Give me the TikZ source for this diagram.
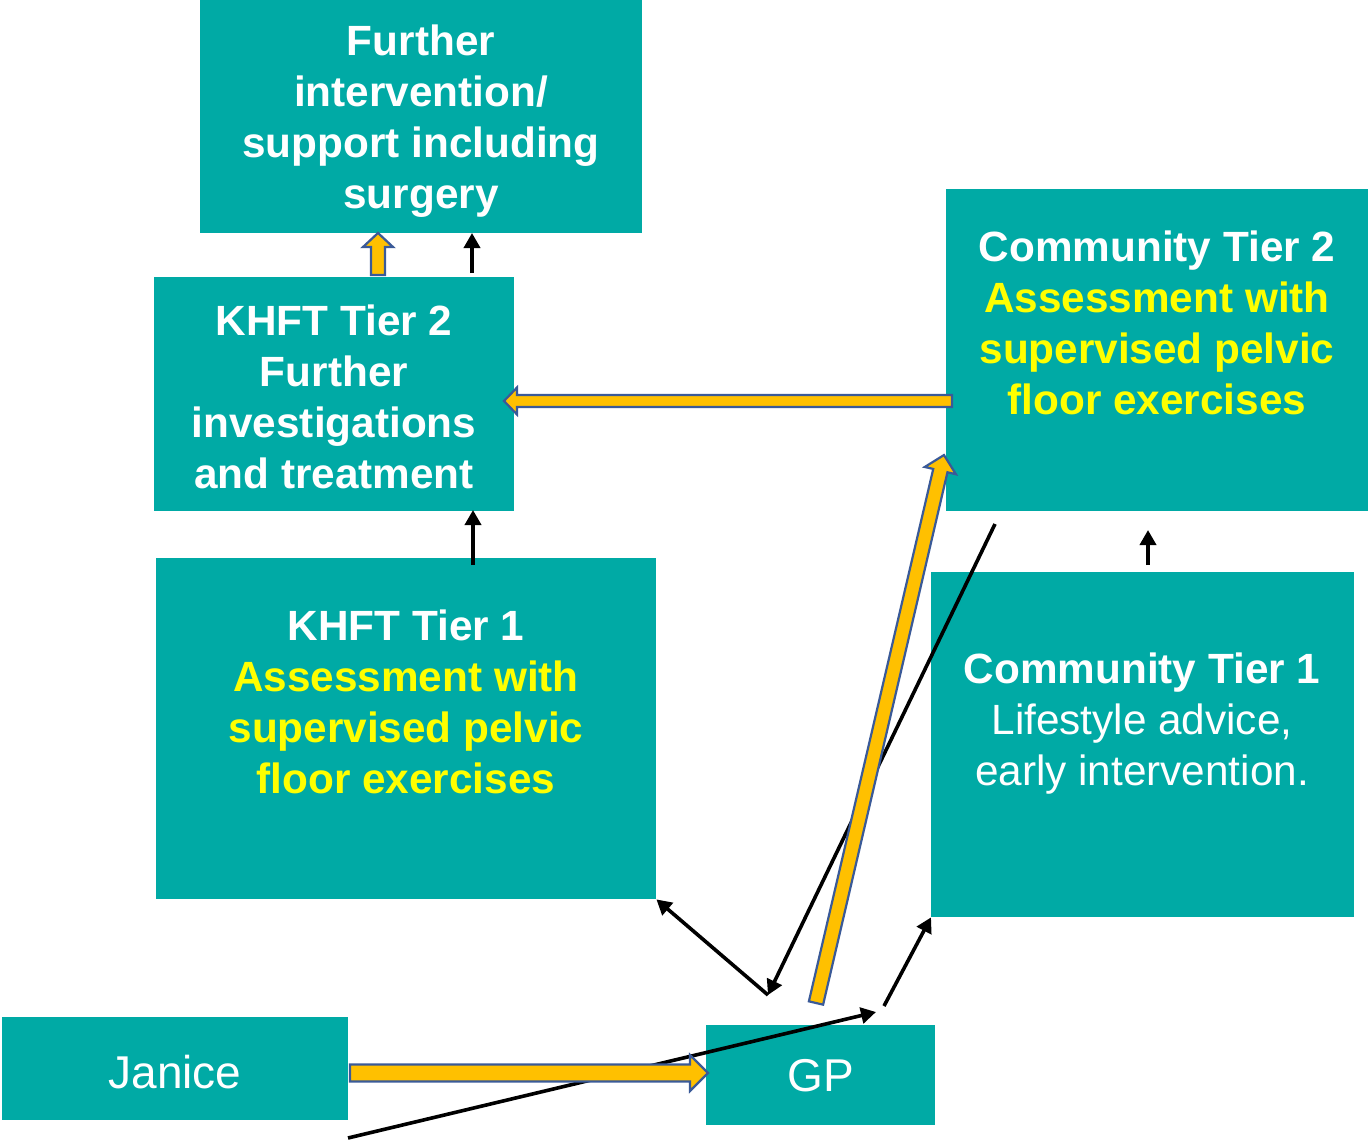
\documentclass[tikz,border=0pt]{standalone}
\usepackage{fontspec}
\setmainfont{Liberation Sans}
\usetikzlibrary{arrows.meta,calc}

\definecolor{boxteal}{HTML}{00AAA5}
\definecolor{arrowfill}{HTML}{FFC000}
\definecolor{arrowedge}{HTML}{3A5A98}
\definecolor{hilite}{HTML}{FFFF00}

\tikzset{
  box/.style={fill=boxteal, inner sep=0pt, anchor=north west},
  boxtext/.style={text=white, font=\fontsize{42.3}{51}\selectfont\bfseries,
    align=center, inner sep=0pt, anchor=north},
  plaintext/.style={text=white, font=\fontsize{46}{55}\selectfont, inner sep=0pt},
  conn/.style={line width=3.6pt, -{Triangle[length=15pt,width=16pt]}},
  barrow/.style={fill=arrowfill, draw=arrowedge, line width=2.2pt, line join=miter},
}

% Outlined block arrow: start, end, shaft half-width, head half-width, head length
\newcommand\blockarrow[5]{%
  \path let \p1=#1, \p2=#2 in \pgfextra{%
    \pgfmathsetmacro\baang{atan2(\y2-\y1,\x2-\x1)}%
    \pgfmathsetmacro\balen{veclen(\x2-\x1,\y2-\y1)}%
    \global\let\baangle\baang
    \global\let\balength\balen};
  \begin{scope}[shift={#1}, rotate=\baangle, x=1pt, y=1pt]
    \draw[barrow] (0,-#3) -- (\balength-#5,-#3) -- (\balength-#5,-#4)
      -- (\balength,0) -- (\balength-#5,#4) -- (\balength-#5,#3)
      -- (0,#3) -- cycle;
  \end{scope}}

\begin{document}
\begin{tikzpicture}[x=1pt, y=-1pt]
  \useasboundingbox (0,0) rectangle (1368,1142);

  % boxes
  \node[box, minimum width=442pt, minimum height=233pt] (further) at (200,0) {};
  \node[box, minimum width=360pt, minimum height=234pt] (k2) at (154,277) {};
  \node[box, minimum width=500pt, minimum height=341pt] (k1) at (156,558) {};
  \node[box, minimum width=422pt, minimum height=322pt] (c2) at (946,189) {};
  \node[box, minimum width=423pt, minimum height=345pt] (c1) at (931,572) {};
  \node[box, minimum width=346pt, minimum height=103pt] (janice) at (2,1017) {};
  \node[box, minimum width=229pt, minimum height=100pt] (gp) at (706,1025) {};

  % box texts
  \node[boxtext] (furthertxt) at (421,25)
    {Further\\intervention/\\support including\\surgery};
  \node[boxtext] (k2txt) at (334,305)
    {KHFT Tier 2\\Further\\investigations\\and treatment};
  \node[boxtext] (k1txt) at (406,610)
    {KHFT Tier 1\\\textcolor{hilite}{Assessment with}\\
     \textcolor{hilite}{supervised pelvic}\\\textcolor{hilite}{floor exercises}};
  \node[boxtext] (c2txt) at (1157,231)
    {Community Tier 2\\\textcolor{hilite}{Assessment with}\\
     \textcolor{hilite}{supervised pelvic}\\\textcolor{hilite}{floor exercises}};
  \node[boxtext] (c1txt) at (1142,653)
    {Community Tier 1\\\mdseries Lifestyle advice,\\\mdseries early intervention.};
  \node[plaintext] (janicetxt) at (175,1072) {Janice};
  \node[plaintext] (gptxt) at (821,1076) {GP};

  % connector end points
  \coordinate (lowStart) at (348,1138);
  \coordinate (lowEnd) at (876,1012);
  \coordinate (gpTop) at (884,1006);
  \coordinate (gpMeet) at (768,995);
  \coordinate (c2Low) at (995,524);
  \coordinate (k2TopR) at (472,273);
  \coordinate (furtherBotR) at (472,233);
  \coordinate (k1Top) at (473,565);
  \coordinate (k2Bot) at (473,510);
  \coordinate (c1Top) at (1148,565);
  \coordinate (c2Bot) at (1148,530);

  % thin black connectors
  \draw[conn] (lowStart) -- (lowEnd);
  \draw[conn] (gpTop) -- (c1.south west);
  \draw[conn] (gpMeet) -- (k1.south east);
  \draw[conn] (c2Low) -- (gpMeet);
  \draw[conn] (k2TopR) -- (furtherBotR);
  \draw[conn] (k1Top) -- (k2Bot);
  \draw[conn] (c1Top) -- (c2Bot);

  % block arrow end points
  \coordinate (janOut) at (350,1073);
  \coordinate (gpIn) at (708,1073);
  \coordinate (gpOut) at (816,1003);
  \coordinate (c2In) at (944,455);
  \coordinate (c2Out) at (952,401);
  \coordinate (k2In) at (504,401);
  \coordinate (k2Up) at (378,275);
  \coordinate (furtherIn) at (378,233);

  % orange block arrows
  \blockarrow{(janOut)}{(gpIn)}{8.5}{18}{18}
  \blockarrow{(gpOut)}{(c2In)}{7.3}{16}{16}
  \blockarrow{(c2Out)}{(k2In)}{6}{13.5}{13}
  \blockarrow{(k2Up)}{(furtherIn)}{7}{15}{14}
\end{tikzpicture}
\end{document}
